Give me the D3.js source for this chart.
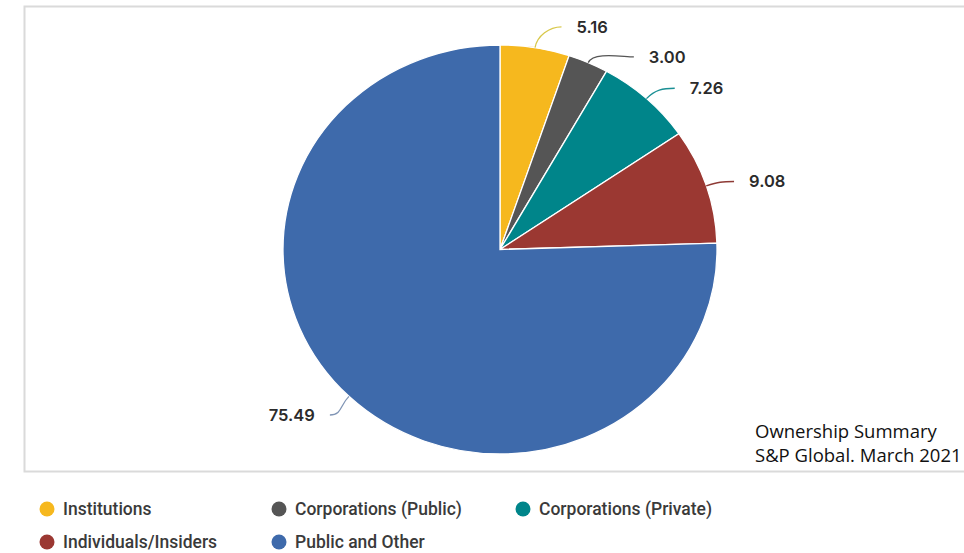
<!DOCTYPE html>
<head>
  <meta charset="utf-8" />
  <script src="https://d3js.org/d3.v7.min.js"></script>
  <style>
    body {
      margin: 0;
      background: #fff;
    }
    .lbl {
      font-family: Inter, "Noto Sans", sans-serif;
      font-size: 16.5px;
      font-weight: 600;
      fill: #2b2b2b;
    }
    .leg {
      font-family: Roboto, "Noto Sans", sans-serif;
      font-size: 17.5px;
      font-weight: 500;
      fill: #3a3a3a;
    }
    .note {
      font-family: "Open Sans", sans-serif;
      font-size: 18.5px;
      fill: #111;
    }
  </style>
</head>

<body>
  <script>
    var width = 964,
      height = 553;

    // ownership summary, percent
    var categories = [
      "Institutions",
      "Corporations (Public)",
      "Corporations (Private)",
      "Individuals/Insiders",
      "Public and Other"
    ];
    var values = [5.16, 3.0, 7.26, 9.08, 75.49];
    var colors = ["#f6b81e", "#555555", "#00858a", "#9b3832", "#3e6aab"];
    var lineColors = ["#d8c84a", "#555555", "#1a8f94", "#8e3a35", "#8095b5"];
    var noteLines = ["Ownership Summary", "S&P Global. March 2021"];

    var svg = d3
      .select("body")
      .append("svg")
      .attr("width", width)
      .attr("height", height);

    // frame
    svg
      .append("rect")
      .attr("x", 24.5)
      .attr("y", 6.5)
      .attr("width", 960)
      .attr("height", 465)
      .attr("fill", "none")
      .attr("stroke", "#dadada")
      .attr("stroke-width", 2);

    var cx = 500,
      cy = 249.5,
      ry = 204.5,
      rx = 217,
      sx = rx / ry;

    var data = categories.map(function (c, i) {
      return { name: c, value: values[i], color: colors[i], line: lineColors[i] };
    });

    var pie = d3.pie().sort(null).value(function (d) { return d.value; });
    var arcs = pie(data);
    var arc = d3.arc().innerRadius(0).outerRadius(ry);

    var g = svg
      .append("g")
      .attr("transform", "translate(" + cx + "," + cy + ") scale(" + sx + ",1)");

    g.selectAll("path")
      .data(arcs)
      .join("path")
      .attr("d", arc)
      .attr("fill", function (d) { return d.data.color; })
      .attr("stroke", "#fff")
      .attr("stroke-width", 1.3)
      .attr("vector-effect", "non-scaling-stroke");

    // label layout
    var labels = arcs.map(function (d) {
      var a = (d.startAngle + d.endAngle) / 2;
      var right = Math.sin(a) >= 0;
      return {
        d: d,
        a: a,
        right: right,
        px: cx + rx * Math.sin(a),
        py: cy - ry * Math.cos(a),
        y: cy - (ry + (right ? 14 : 26)) * Math.cos(a)
      };
    });

    // push overlapping labels apart on each side
    var minGap = 30;
    [true, false].forEach(function (side) {
      var list = labels.filter(function (l) { return l.right === side; })
        .sort(function (a, b) { return a.y - b.y; });
      for (var k = 0; k < 20; k++) {
        for (var i = 1; i < list.length; i++) {
          var diff = list[i].y - list[i - 1].y;
          if (diff < minGap) {
            var m = (minGap - diff) / 2;
            list[i - 1].y -= m;
            list[i].y += m;
          }
        }
      }
    });

    var lrx = 245,
      lry = 230;
    labels.forEach(function (l) {
      var dy = l.y - cy;
      var t = Math.max(0, 1 - (dy / lry) * (dy / lry));
      var off = lrx * Math.sqrt(t);
      l.ex = l.right ? cx + off : cx - off;
    });

    svg
      .append("g")
      .selectAll("path")
      .data(labels)
      .join("path")
      .attr("fill", "none")
      .attr("stroke", function (l) { return l.d.data.line; })
      .attr("stroke-width", 1.3)
      .attr("d", function (l) {
        var c1x = l.px + 12 * Math.sin(l.a) * sx,
          c1y = l.py - 12 * Math.cos(l.a);
        var c2x = l.ex + (l.right ? -12 : 12);
        return "M" + l.px + "," + l.py + "C" + c1x + "," + c1y + " " + c2x + "," + l.y + " " + l.ex + "," + l.y;
      });

    svg
      .append("g")
      .selectAll("text")
      .data(labels)
      .join("text")
      .attr("class", "lbl")
      .attr("x", function (l) { return l.right ? l.ex + 15 : l.ex - 15; })
      .attr("y", function (l) { return l.y; })
      .attr("dy", "0.35em")
      .attr("text-anchor", function (l) { return l.right ? "start" : "end"; })
      .text(function (l) { return l.d.data.value.toFixed(2); });

    // note
    svg
      .append("g")
      .selectAll("text")
      .data(noteLines)
      .join("text")
      .attr("class", "note")
      .attr("x", 755)
      .attr("y", function (d, i) { return 438 + i * 24; })
      .text(function (d) { return d; });

    // legend
    var colX = [47, 279, 523];
    var leg = svg
      .append("g")
      .selectAll("g")
      .data(data)
      .join("g")
      .attr("transform", function (d, i) {
        return "translate(" + colX[i % 3] + "," + (509 + Math.floor(i / 3) * 33) + ")";
      });
    leg.append("circle").attr("r", 7.5).attr("fill", function (d) { return d.color; });
    leg
      .append("text")
      .attr("class", "leg")
      .attr("x", 16)
      .attr("dy", "0.35em")
      .text(function (d) { return d.name; });
  </script>
</body>
